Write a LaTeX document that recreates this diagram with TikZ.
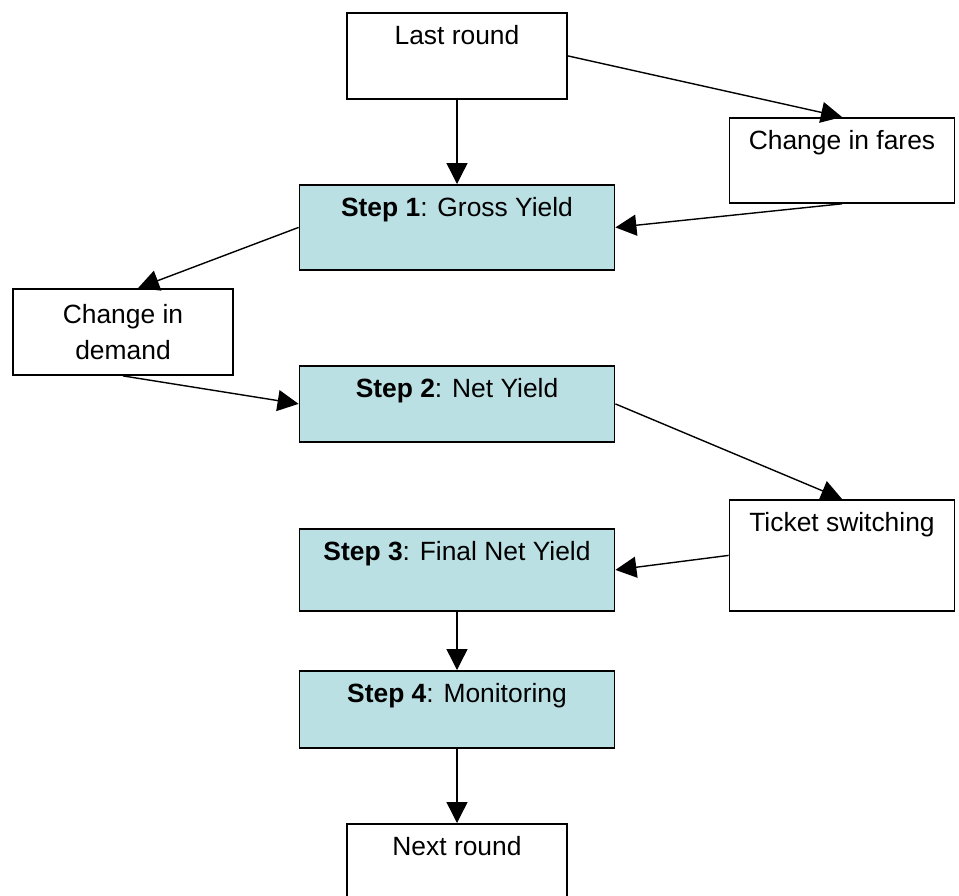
\documentclass[tikz,border=0pt]{standalone}
\usepackage{fontspec}
\setmainfont{Liberation Sans}
\usepackage{tikz}
\usetikzlibrary{arrows.meta}

\definecolor{stepfill}{RGB}{186,224,227}

\tikzset{
  box/.style={draw, line width=0.9pt, anchor=north, inner xsep=0pt, inner ysep=0pt,
    text height=15.75pt, font=\fontsize{13.2pt}{18pt}\selectfont},
  sidebox/.style={box, minimum width=112.5pt},
  stepbox/.style={box, fill=stepfill, minimum width=157.5pt},
  link/.style={line width=0.7pt, -{Triangle[length=10.5pt,width=10.5pt]}}
}

\begin{document}
\begin{tikzpicture}[x=0.5pt,y=-0.5pt]

\clip (0,0) rectangle (959,895);

% Side boxes
\node[sidebox, minimum width=110pt, text depth=27.25pt] (last) at (457,12) {Last round};
\node[sidebox, text depth=26.75pt] (fares) at (842,117) {Change in fares};
\node[sidebox, minimum width=110pt, minimum height=43pt, anchor=center, text height=, text depth=, align=center] (demand) at (123,332) {Change in\\demand};
\node[sidebox, text depth=39.75pt] (ticket) at (842,499) {Ticket switching};
\node[sidebox, minimum width=110pt, text depth=27.25pt] (next) at (457,823) {Next round};

% Steps
\node[stepbox, text depth=26.75pt] (s1) at (457,184) {\textbf{Step 1}: Gross Yield};
\node[stepbox, text depth=22.25pt] (s2) at (457,365) {\textbf{Step 2}: Net Yield};
\node[stepbox, text depth=25.25pt] (s3) at (457,528) {\textbf{Step 3}: Final Net Yield};
\node[stepbox, text depth=22.75pt] (s4) at (457,670) {\textbf{Step 4}: Monitoring};

% Arrows
\draw[link] (last.south) -- (s1.north);
\draw[link] (last.east) -- (fares.north);
\draw[link] (fares.south) -- (s1.east);
\draw[link] (s1.west) -- ([xshift=7.5pt]demand.north);
\draw[link] (demand.south) -- (s2.west);
\draw[link] (s2.east) -- (ticket.north);
\draw[link] (ticket.west) -- (s3.east);
\draw[link] (s3.south) -- (s4.north);
\draw[link] (s4.south) -- (next.north);

\end{tikzpicture}
\end{document}
